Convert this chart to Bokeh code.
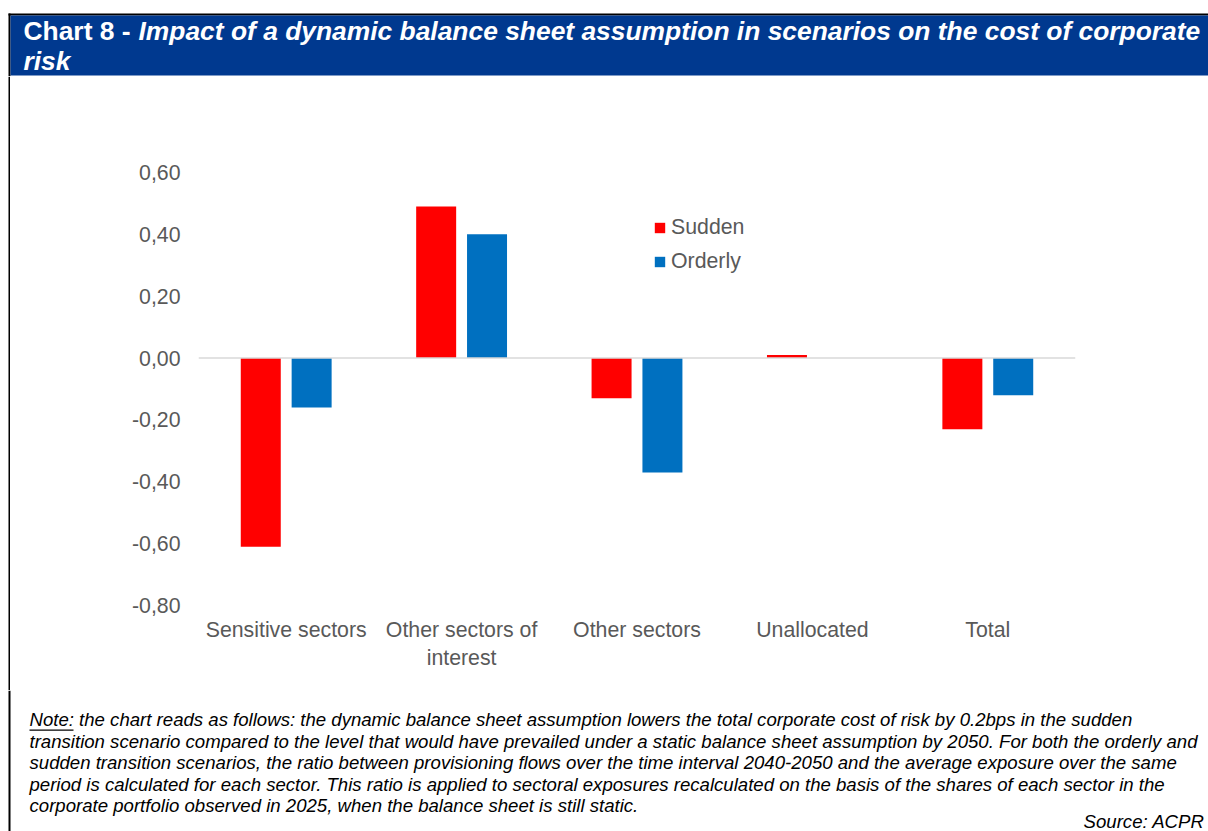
from bokeh.plotting import figure
from bokeh.layouts import column, row
from bokeh.models import (ColumnDataSource, FactorRange, Range1d, FixedTicker, Span,
                          Label, BoxAnnotation, Legend, LegendItem)
from bokeh.transform import dodge
from bokeh.embed import file_html
from bokeh.resources import INLINE

# ---------------- data ----------------
categories = ["Sensitive sectors", "Other sectors of\ninterest", "Other sectors", "Unallocated", "Total"]
sudden = [-0.61, 0.49, -0.13, 0.01, -0.23]
orderly = [-0.16, 0.40, -0.37, 0.0, -0.12]
series_names = ["Sudden", "Orderly"]
y_ticks = [-0.8, -0.6, -0.4, -0.2, 0.0, 0.2, 0.4, 0.6]
y_tick_labels = ["-0,80", "-0,60", "-0,40", "-0,20", "0,00", "0,20", "0,40", "0,60"]

title_bold = "Chart 8 - "
title_italic_1 = "Impact of a dynamic balance sheet assumption in scenarios on the cost of corporate"
title_italic_2 = "risk"
note_lines = [
    "Note: the chart reads as follows: the dynamic balance sheet assumption lowers the total corporate cost of risk by 0.2bps in the sudden",
    "transition scenario compared to the level that would have prevailed under a static balance sheet assumption by 2050. For both the orderly and",
    "sudden transition scenarios, the ratio between provisioning flows over the time interval 2040-2050 and the average exposure over the same",
    "period is calculated for each sector. This ratio is applied to sectoral exposures recalculated on the basis of the shares of each sector in the",
    "corporate portfolio observed in 2025, when the balance sheet is still static.",
]
source_text = "Source: ACPR"

# ---------------- style ----------------
FONT = "Liberation Sans"
GREY = "#595959"
RED = "#FF0000"
BLUE = "#0070C0"
NAVY = "#00398F"
W = 1208
TOP_H = 76          # title strip: page y 0..76
CHART_H = 614       # chart strip: page y 76..690
NOTE_H = 141        # note strip: page y 690..831
STRIP_W = 10


def plain(width, height):
    f = figure(width=width, height=height, x_range=Range1d(0, width), y_range=Range1d(height, 0),
               output_backend="svg", toolbar_location=None, min_border=0, frame_align=False)
    f.axis.visible = False
    f.grid.visible = False
    f.outline_line_color = None
    f.background_fill_color = "white"
    f.border_fill_color = "white"
    return f


def box(f, l, r, t, b, color):
    f.add_layout(BoxAnnotation(left=l, right=r, top=t, bottom=b,
                               fill_color=color, fill_alpha=1, line_color=None, line_width=0))


def label(f, x, y, text, size, style="normal", color="black", align="left"):
    f.add_layout(Label(x=x, y=y, text=text, text_font=FONT, text_font_size=size,
                       text_font_style=style, text_color=color, text_align=align,
                       text_baseline="middle"))


# ---------------- title strip ----------------
ft = plain(W, TOP_H)
box(ft, 8, W, 13, 15, "black")
box(ft, 8, 10, 13, TOP_H, "black")
box(ft, 10, W, 15, 75, NAVY)
label(ft, 23, 30, title_bold, "26.4px", "bold", "white")
label(ft, 138, 30, title_italic_1, "26.4px", "bold italic", "white")
label(ft, 23, 60, title_italic_2, "26.4px", "bold italic", "white")

# ---------------- chart ----------------
FL, FR, FT, FB = 188, 1065, 96, 529   # frame edges inside chart figure
CW = W - STRIP_W

src = ColumnDataSource(dict(cat=categories, sudden=sudden, orderly=orderly))

p = figure(width=CW, height=CHART_H, x_range=FactorRange(*categories), y_range=Range1d(-0.8, 0.6),
           output_backend="svg", toolbar_location=None, frame_align=False,
           min_border_left=FL, min_border_right=CW - FR, min_border_top=FT,
           min_border_bottom=CHART_H - FB)
p.outline_line_color = None
p.xgrid.visible = False
p.ygrid.visible = False
p.background_fill_color = "white"
p.border_fill_color = "white"

p.yaxis.ticker = FixedTicker(ticks=y_ticks)
p.yaxis.major_label_overrides = {t: l for t, l in zip(y_ticks, y_tick_labels)}
for ax in (p.xaxis[0], p.yaxis[0]):
    ax.axis_line_color = None
    ax.major_tick_line_color = None
    ax.minor_tick_line_color = None
    ax.major_tick_out = 0
    ax.major_tick_in = 0
    ax.minor_tick_out = 0
    ax.major_label_text_font = FONT
    ax.major_label_text_font_size = "21.3px"
    ax.major_label_text_color = GREY
p.yaxis.major_label_standoff = 18
p.xaxis.major_label_standoff = 12

p.add_layout(Span(location=0, dimension="width", line_color="#d9d9d9", line_width=1.5))

r1 = p.vbar(x=dodge("cat", -0.145, range=p.x_range), top="sudden", width=0.228, source=src,
            fill_color=RED, line_color=None)
r2 = p.vbar(x=dodge("cat", 0.145, range=p.x_range), top="orderly", width=0.228, source=src,
            fill_color=BLUE, line_color=None)

legend = Legend(items=[LegendItem(label=series_names[0], renderers=[r1]),
                       LegendItem(label=series_names[1], renderers=[r2])],
                location=(455, 331), orientation="vertical",
                glyph_width=13, glyph_height=13, label_height=20, spacing=9,
                padding=0, margin=0, border_line_color=None, background_fill_alpha=0,
                label_text_font=FONT, label_text_font_size="21.3px", label_text_color=GREY,
                label_standoff=5)
p.add_layout(legend)

fs = plain(STRIP_W, CHART_H)
box(fs, 8, 10, 0, CHART_H, "black")

# ---------------- note strip ----------------
fn = plain(W, NOTE_H)
box(fn, 8, 10, 0, NOTE_H, "black")
note_y = [29, 50.5, 72, 93.5, 115]
for yy, line in zip(note_y, note_lines):
    label(fn, 29, yy, line, "18.6px", "italic")
box(fn, 29, 73, 39, 40.2, "black")
label(fn, 1204, 131, source_text, "18.6px", "italic", align="right")

layout = column(ft, row(fs, p, spacing=0), fn, spacing=0)

open("out.html", "w").write(file_html(layout, INLINE))
